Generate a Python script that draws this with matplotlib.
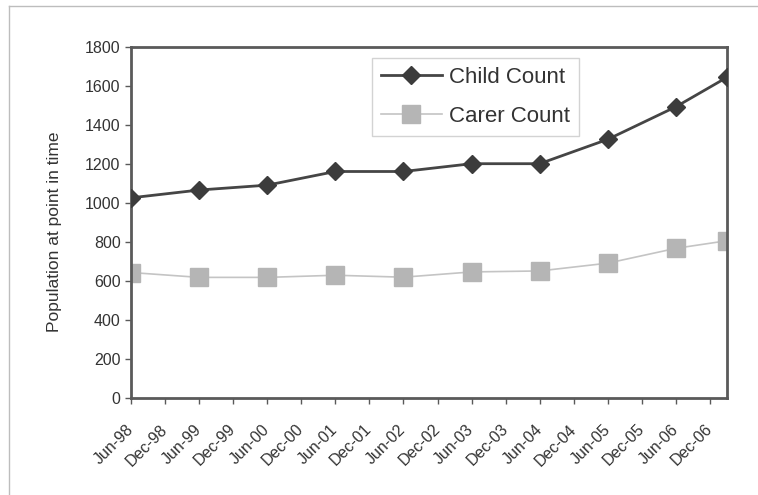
import numpy as np
import matplotlib.pyplot as plt
from matplotlib.lines import Line2D

plt.rcParams['font.family'] = ['Liberation Sans', 'DejaVu Sans']

# months counted from Jun-98
months = [0, 12, 24, 36, 48, 60, 72, 84, 96, 105]
child = [1025, 1065, 1090, 1160, 1160, 1200, 1200, 1325, 1492, 1643]
carer = [642, 617, 617, 628, 618, 645, 650, 690, 766, 805]

tickLabels = ['Jun-98', 'Dec-98', 'Jun-99', 'Dec-99', 'Jun-00', 'Dec-00',
              'Jun-01', 'Dec-01', 'Jun-02', 'Dec-02', 'Jun-03', 'Dec-03',
              'Jun-04', 'Dec-04', 'Jun-05', 'Dec-05', 'Jun-06', 'Dec-06']

fig = plt.figure(figsize=(7.58, 4.95), dpi=100)
ax = fig.add_axes([131/758, 1 - 397.7/495, 596/758, 351/495])

ax.plot(months, child, color='#454545', lw=2, marker='D', ms=9,
        mfc='#3c3c3c', mec='#3c3c3c', label='Child Count', zorder=3)
ax.plot(months, carer, color='#c4c4c4', lw=1.2, marker='s', ms=12.5,
        mfc='#b5b5b5', mec='#b5b5b5', label='Carer Count', zorder=2)

ax.set_xlim(0, 105)
ax.set_ylim(0, 1800)
ax.set_yticks(range(0, 1801, 200))
ax.set_xticks(range(0, 103, 6))
ax.set_xticklabels(tickLabels, rotation=45, ha='right', va='center',
                   rotation_mode='anchor')

for s in ax.spines.values():
    s.set_color('#5a5a5a')
    s.set_linewidth(2)

ax.tick_params(axis='both', colors='#5a5a5a', labelcolor='#333333',
               labelsize=11.5, length=4, width=1)
ax.tick_params(axis='x', pad=17)
ax.set_ylabel('Population at point in time', fontsize=12.5, color='#333333')
ax.yaxis.set_label_coords(-0.115, 0.473)

leg = ax.legend(loc='upper left', bbox_to_anchor=(372/758, 1 - 58/495),
                bbox_transform=fig.transFigure, fontsize=16, frameon=True,
                fancybox=False, handlelength=2.75, handletextpad=0.3,
                borderpad=0.4, labelspacing=0.8, borderaxespad=0)
leg.get_frame().set_edgecolor('#c8c8c8')
leg.get_frame().set_linewidth(1)
for t in leg.get_texts():
    t.set_color('#333333')

# outer frame (only left and top visible)
fig.add_artist(Line2D([9/758, 9/758], [0, 1 - 6/495], color='#bdbdbd',
                      lw=1, transform=fig.transFigure))
fig.add_artist(Line2D([9/758, 1], [1 - 6/495, 1 - 6/495], color='#bdbdbd',
                      lw=1, transform=fig.transFigure))

fig.savefig('out.png', dpi=100)
